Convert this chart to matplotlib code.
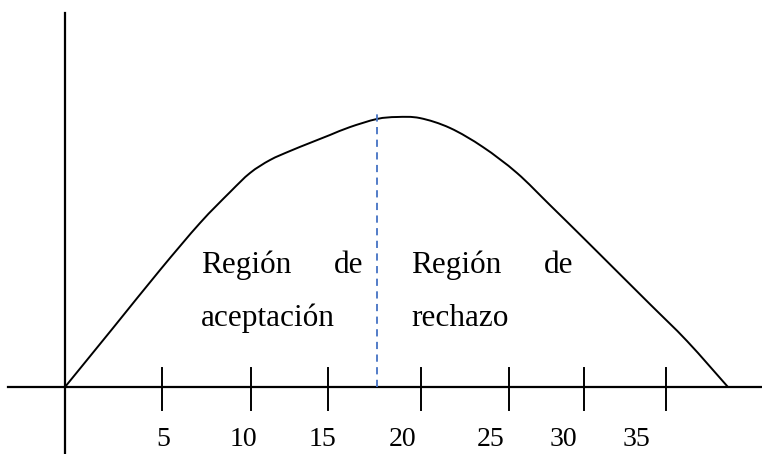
import matplotlib.pyplot as plt
from matplotlib.path import Path
from matplotlib.patches import PathPatch

# escala del dibujo: 1 unidad = 18 px, origen en el cruce de los ejes
curve_x = [0, 2.67, 5.28, 7.5, 9.17, 10.28, 11.39, 12.5, 13.61, 14.72, 15.83, 17.33,
           18.44, 19.72, 21.39, 23.22, 25.11, 26.94, 28.78, 30.67, 32.5, 34.56, 36.83]
curve_y = [0, 3.28, 6.5, 9.11, 10.83, 11.89, 12.61, 13.11, 13.56, 14.0, 14.44, 14.89,
           15.0, 14.94, 14.39, 13.33, 11.89, 10.11, 8.3, 6.42, 4.6, 2.55, 0]

tick_pos = [5.39, 10.33, 14.61, 19.78, 24.67, 28.83, 33.39]
tick_labels = ['5', '10', '15', '20', '25', '30', '35']
label_pos = [5.44, 9.94, 14.28, 18.78, 23.67, 27.67, 31.72]

split_x = 17.33   # frontera entre regiones
split_top = 15.3


def smooth_path(xs, ys):
    # catmull-rom pasado a curvas bezier, pasa por todos los puntos
    pts = list(zip(xs, ys))
    verts = [pts[0]]
    codes = [Path.MOVETO]
    for i in range(len(pts) - 1):
        p0 = pts[i - 1] if i > 0 else pts[i]
        p1 = pts[i]
        p2 = pts[i + 1]
        p3 = pts[i + 2] if i + 2 < len(pts) else pts[i + 1]
        c1 = (p1[0] + (p2[0] - p0[0]) / 6, p1[1] + (p2[1] - p0[1]) / 6)
        c2 = (p2[0] - (p3[0] - p1[0]) / 6, p2[1] - (p3[1] - p1[1]) / 6)
        verts += [c1, c2, p2]
        codes += [Path.CURVE4] * 3
    return Path(verts, codes)


fig = plt.figure(figsize=(7.62, 4.54), dpi=100)
ax = fig.add_axes([0, 0, 1, 1])
ax.set_xlim(-65 / 18, (762 - 65) / 18)
ax.set_ylim((387 - 454) / 18, 387 / 18)
ax.axis('off')

serif = 'Liberation Serif'

# ejes
ax.plot([-3.17, 38.72], [0, 0], color='black', lw=1.6)
ax.plot([0, 0], [-3.72, 20.78], color='black', lw=1.6)

# marcas
for tp in tick_pos:
    ax.plot([tp, tp], [-1.25, 1.05], color='black', lw=1.4)
for lp, lab in zip(label_pos, tick_labels):
    ax.text(lp, -3.3, lab, ha='center', va='baseline', fontsize=20, family=serif)

# curva
ax.add_patch(PathPatch(smooth_path(curve_x, curve_y), facecolor='none',
                       edgecolor='black', lw=1.4))

# linea discontinua
ax.plot([split_x, split_x], [0, split_top], color='#4472C4', lw=1.3,
        linestyle=(0, (4, 3)))

# textos
fs = 22.5
ax.text(7.55, 6.33, 'Región', fontsize=fs, family=serif, va='baseline', ha='left')
ax.text(16.56, 6.33, 'de', fontsize=fs, family=serif, va='baseline', ha='right')
ax.text(7.55, 3.4, 'aceptación', fontsize=fs, family=serif, va='baseline', ha='left')
ax.text(19.25, 6.33, 'Región', fontsize=fs, family=serif, va='baseline', ha='left')
ax.text(28.22, 6.33, 'de', fontsize=fs, family=serif, va='baseline', ha='right')
ax.text(19.25, 3.4, 'rechazo', fontsize=fs, family=serif, va='baseline', ha='left')

fig.savefig('out.png', dpi=100)
